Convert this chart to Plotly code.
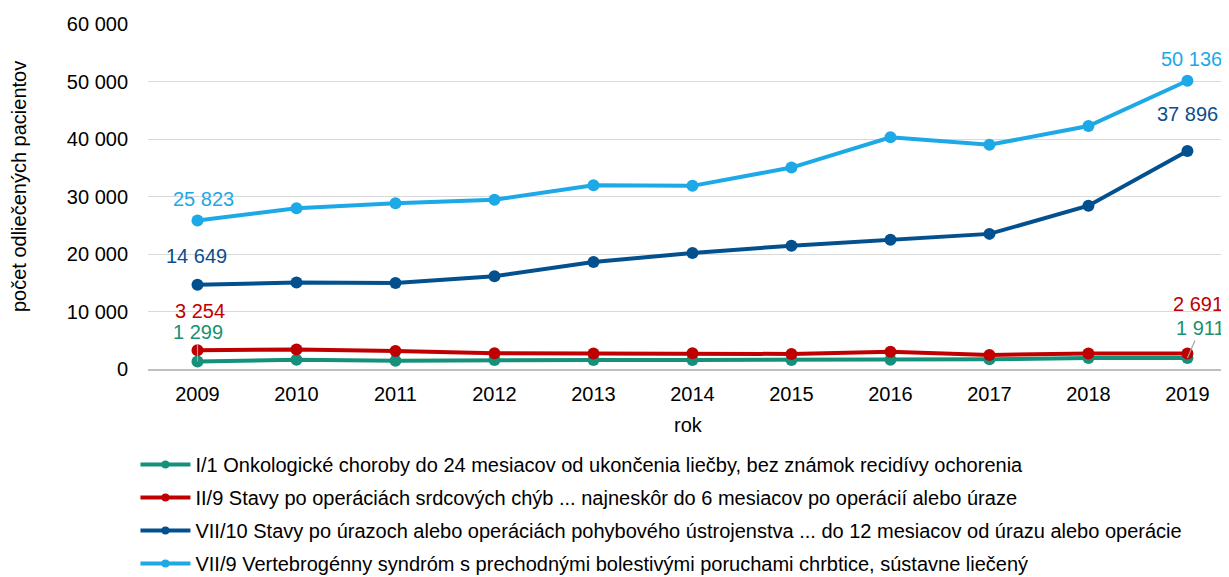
import plotly.graph_objects as go

years = ["2009", "2010", "2011", "2012", "2013", "2014", "2015", "2016", "2017", "2018", "2019"]

names = [
    "I/1 Onkologické choroby do 24 mesiacov od ukončenia liečby, bez známok recidívy ochorenia",
    "II/9 Stavy po operáciách srdcových chýb ... najneskôr do 6 mesiacov po operácií alebo úraze",
    "VII/10 Stavy po úrazoch alebo operáciách pohybového ústrojenstva ... do 12 mesiacov od úrazu alebo operácie",
    "VII/9 Vertebrogénny syndróm s prechodnými bolestivými poruchami chrbtice, sústavne liečený",
]

onko = [1299, 1600, 1450, 1560, 1560, 1560, 1580, 1600, 1700, 1900, 1911]
srdce = [3254, 3400, 3130, 2730, 2700, 2730, 2620, 3000, 2430, 2700, 2691]
uraz = [14649, 15050, 14970, 16120, 18610, 20170, 21450, 22480, 23500, 28400, 37896]
vertebro = [25823, 27970, 28840, 29420, 31960, 31850, 35030, 40290, 39000, 42260, 50136]

series = [onko, srdce, uraz, vertebro]
colors = ["#15907A", "#C00000", "#03508F", "#1CA9E6"]
label_colors = ["#1A9070", "#C00000", "#0B4E8C", "#1CA9E6"]

FONT = "Arial, Liberation Sans, sans-serif"
FS = 20

fig = go.Figure()

for vals, col in zip(series, colors):
    fig.add_trace(go.Scatter(
        x=years, y=vals, mode="lines+markers",
        line=dict(color=col, width=4),
        marker=dict(color=col, size=12),
        showlegend=False, hoverinfo="x+y",
    ))

# legend entries
for i, (nm, col) in enumerate(zip(names, colors)):
    fig.add_trace(go.Scatter(
        x=[None], y=[None], mode="lines+markers", name=nm,
        line=dict(color=col, width=4),
        marker=dict(color=col, size=8),
        legendgroup=f"g{i}", showlegend=True,
    ))


def fmt(v):
    return f"{v:,}".replace(",", " ")


label_specs = [
    # (series index, point index, xshift, yshift, arrow ax, ay)
    (0, 0, None, None, 0, -30),
    (0, 10, None, None, 13, -30),
    (1, 0, 2, 39, None, None),
    (1, 10, 11, 50, None, None),
    (2, 0, -1, 29, None, None),
    (2, 10, 0, 37, None, None),
    (3, 0, 6, 22, None, None),
    (3, 10, 4, 22, None, None),
]
for si, pi, xs, ys, ax, ay in label_specs:
    val = series[si][pi]
    if ax is not None:
        fig.add_annotation(
            x=pi, y=val, xref="x", yref="y", text=fmt(val), showarrow=True,
            ax=ax, ay=ay, arrowhead=0, arrowwidth=1.2, arrowcolor="#A6A6A6",
            font=dict(family=FONT, size=FS, color=label_colors[si]),
        )
    else:
        fig.add_annotation(
            x=pi, y=val, xref="x", yref="y", text=fmt(val), showarrow=False,
            xshift=xs, yshift=ys,
            font=dict(family=FONT, size=FS, color=label_colors[si]),
        )

# axis titles
fig.add_annotation(
    x=-0.1193, y=0.5275, xref="paper", yref="paper", text="počet odliečených pacientov",
    xanchor="center", yanchor="middle",
    textangle=-90, showarrow=False, font=dict(family=FONT, size=FS, color="#000000"),
)
fig.add_annotation(
    x=0.5, y=-0.162, xref="paper", yref="paper", text="rok",
    xanchor="center", yanchor="middle",
    showarrow=False, font=dict(family=FONT, size=FS, color="#000000"),
)

# the page body adds an 8px offset; margins compensate for it
fig.update_layout(
    template="none",
    width=1229, height=577,
    margin=dict(l=140, r=8, t=16, b=216, autoexpand=False),
    paper_bgcolor="white", plot_bgcolor="white",
    separators=", ",
    font=dict(family=FONT, size=FS, color="#000000"),
    showlegend=True,
    legend=dict(
        x=-0.0116, y=-0.2205, xanchor="left", yanchor="top",
        orientation="v", font=dict(family=FONT, size=FS, color="#000000"),
        tracegroupgap=4, itemwidth=50, bgcolor="rgba(0,0,0,0)",
    ),
    xaxis=dict(
        type="category", range=[-0.5, 10.42], automargin=False,
        showgrid=False, showline=True, linecolor="#BFBFBF", linewidth=1.5,
        ticks="outside", ticklen=6, tickcolor="rgba(0,0,0,0)",
        tickfont=dict(family=FONT, size=FS, color="#000000"),
        zeroline=False, fixedrange=True,
    ),
    yaxis=dict(
        range=[0, 60000], dtick=10000, tickformat=",d", automargin=False,
        showgrid=True, gridcolor="#D9D9D9", gridwidth=1,
        zeroline=False, showline=False, ticks="outside", ticklen=15, tickcolor="rgba(0,0,0,0)",
        tickfont=dict(family=FONT, size=FS, color="#000000"),
        fixedrange=True,
    ),
)

fig.write_html("out.html")
